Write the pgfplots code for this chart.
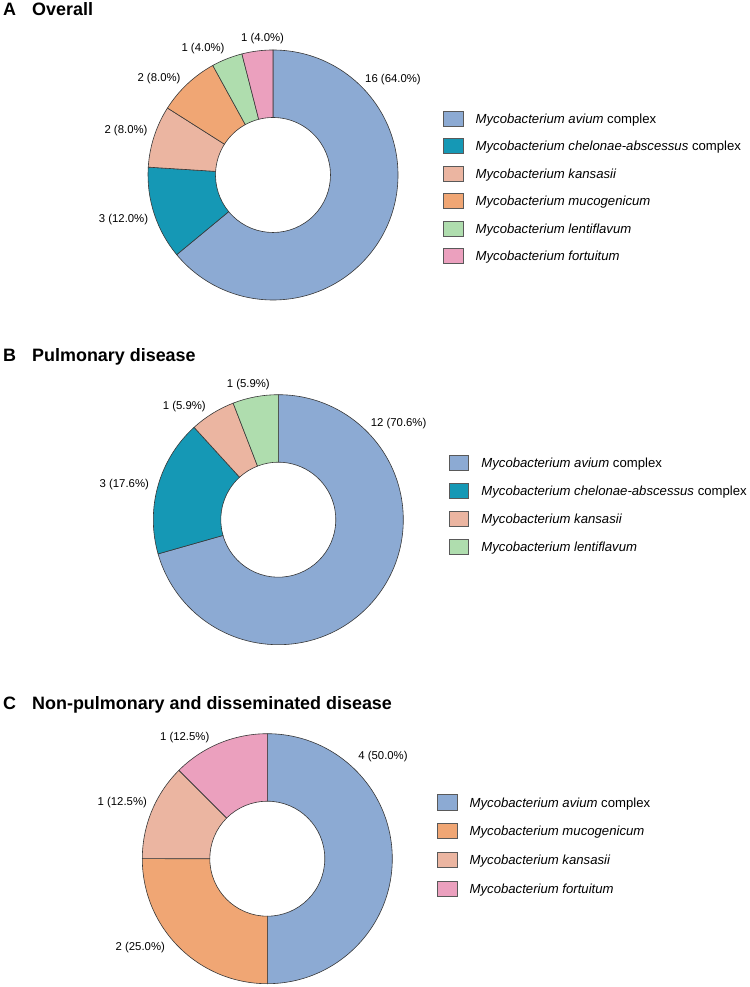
\documentclass[border=0pt]{standalone}
\usepackage{fontspec}
\setmainfont{Liberation Sans}
\usepackage{pgfplots}
\usepackage{pgfplotstable}
\pgfplotsset{compat=1.18}

% species colours
\definecolor{cMAC}{HTML}{8CAAD3}
\definecolor{cMCA}{HTML}{1598B5}
\definecolor{cMK}{HTML}{EBB5A1}
\definecolor{cMM}{HTML}{F0A674}
\definecolor{cML}{HTML}{AFDDAE}
\definecolor{cMF}{HTML}{EBA0BE}

% n = isolates; lx, ly = label offset from the ring centre (bp)
\pgfplotstableread{
n  colour lx     ly
16 cMAC   120    95
3  cMCA   -149.5 -45
2  cMK    -147   44
2  cMM    -114   96
1  cML    -70    126
1  cMF    -10.5  136
}\tabOverall

\pgfplotstableread{
n  colour lx    ly
12 cMAC   120.3 96.4
3  cMCA   -154  35
1  cMK    -94   113
1  cML    -30   135
}\tabPulm

\pgfplotstableread{
n  colour lx     ly
4  cMAC   115.7  102
2  cMM    -127   -88.6
1  cMK    -145   56
1  cMF    -82.6  121.4
}\tabNonPulm

\def\Rout{125}
\def\Rin{57.5}

\tikzset{
  slice/.style={draw=black!78, line width=0.6bp},
  lbl/.style={font=\fontsize{11.4}{13}\selectfont, inner sep=0pt},
  ttl/.style={font=\bfseries\fontsize{18}{21}\selectfont, inner sep=0pt, anchor=base west},
}

% ring chart from a table: #1 table, #2/#3 centre in axis units
\newcommand{\drawdonut}[3]{%
  \pgfplotstablegetrowsof{#1}%
  \pgfmathtruncatemacro\lastrow{\pgfplotsretval-1}%
  \def\tot{0}%
  \pgfplotsforeachungrouped \r in {0,...,\lastrow}{%
    \pgfplotstablegetelem{\r}{n}\of{#1}%
    \pgfmathsetmacro\tot{\tot+\pgfplotsretval}}%
  \def\cum{0}%
  \pgfplotsforeachungrouped \r in {0,...,\lastrow}{%
    \pgfplotstablegetelem{\r}{n}\of{#1}\let\val\pgfplotsretval
    \pgfplotstablegetelem{\r}{colour}\of{#1}\let\col\pgfplotsretval
    \pgfplotstablegetelem{\r}{lx}\of{#1}\let\lx\pgfplotsretval
    \pgfplotstablegetelem{\r}{ly}\of{#1}\let\ly\pgfplotsretval
    \pgfmathsetmacro\aS{90-360*\cum/\tot}%
    \pgfmathsetmacro\cum{\cum+\val}%
    \pgfmathsetmacro\aE{90-360*\cum/\tot}%
    \pgfmathsetmacro\pct{100*\val/\tot}%
    \pgfmathsetmacro\xa{#2+\Rout*cos(\aS)}%
    \pgfmathsetmacro\ya{#3+\Rout*sin(\aS)}%
    \pgfmathsetmacro\xb{#2+\Rin*cos(\aE)}%
    \pgfmathsetmacro\yb{#3+\Rin*sin(\aE)}%
    \pgfmathsetmacro\xl{#2+\lx}%
    \pgfmathsetmacro\yl{#3+\ly}%
    \edef\tmp{%
      \noexpand\filldraw[slice, fill=\col] (axis cs:\xa,\ya)
        arc[start angle=\aS, end angle=\aE, radius=\Rout bp]
        -- (axis cs:\xb,\yb)
        arc[start angle=\aE, end angle=\aS, radius=\Rin bp] -- cycle;
      \noexpand\node[lbl] at (axis cs:\xl,\yl)
        {\val\space(\noexpand\pgfmathprintnumber[fixed,fixed zerofill,precision=1,assume math mode=true]{\pct}\noexpand\%)};
    }\tmp
  }}

\pgfplotsset{
  ringaxis/.style={
    anchor=south west, x=1bp, y=1bp, xmin=0, xmax=750,
    hide axis, clip=false,
    legend image code/.code={%
      \draw[##1, draw=black!65, line width=0.6bp] (0bp,-7.6bp) rectangle (19.4bp,7.6bp);
      \path (31.9bp,0bp);},
    legend style={anchor=north west, draw=none, fill=none,
      inner sep=0pt, outer sep=0pt,
      font=\fontsize{13.2}{15}\selectfont,
      nodes={inner sep=0pt, text depth=0pt},
      cells={anchor=west}},
  },
}

\newcommand{\MAC}{\textit{Mycobacterium avium} complex}
\newcommand{\MCA}{\textit{Mycobacterium chelonae-abscessus} complex}
\newcommand{\MK}{\textit{Mycobacterium kansasii}}
\newcommand{\MM}{\textit{Mycobacterium mucogenicum}}
\newcommand{\ML}{\textit{Mycobacterium lentiflavum}}
\newcommand{\MF}{\textit{Mycobacterium fortuitum}}

\begin{document}
\begin{tikzpicture}
\useasboundingbox (0,0) rectangle (750bp,987bp);

% A: overall
\begin{axis}[ringaxis, at={(0bp,657bp)}, ymin=657, ymax=987,
  legend style={at={(axis cs:443.3,876.3)}, row sep=11.7bp}]
  \addlegendimage{fill=cMAC}\addlegendentry{\MAC}
  \addlegendimage{fill=cMCA}\addlegendentry{\MCA}
  \addlegendimage{fill=cMK}\addlegendentry{\MK}
  \addlegendimage{fill=cMM}\addlegendentry{\MM}
  \addlegendimage{fill=cML}\addlegendentry{\ML}
  \addlegendimage{fill=cMF}\addlegendentry{\MF}
  \drawdonut{\tabOverall}{273}{812}
\end{axis}

% B: pulmonary disease
\begin{axis}[ringaxis, at={(0bp,327bp)}, ymin=327, ymax=657,
  legend style={at={(axis cs:449,531.9)}, row sep=12.2bp}]
  \addlegendimage{fill=cMAC}\addlegendentry{\MAC}
  \addlegendimage{fill=cMCA}\addlegendentry{\MCA}
  \addlegendimage{fill=cMK}\addlegendentry{\MK}
  \addlegendimage{fill=cML}\addlegendentry{\ML}
  \drawdonut{\tabPulm}{278.3}{467.3}
\end{axis}

% C: non-pulmonary and disseminated disease
\begin{axis}[ringaxis, at={(0bp,0bp)}, ymin=0, ymax=327,
  legend style={at={(axis cs:437.3,192.6)}, row sep=13.0bp}]
  \addlegendimage{fill=cMAC}\addlegendentry{\MAC}
  \addlegendimage{fill=cMM}\addlegendentry{\MM}
  \addlegendimage{fill=cMK}\addlegendentry{\MK}
  \addlegendimage{fill=cMF}\addlegendentry{\MF}
  \drawdonut{\tabNonPulm}{267.3}{128.3}
\end{axis}

% panel headings
\node[ttl] at (3bp,971.5bp) {A};
\node[ttl] at (32bp,971.5bp) {Overall};
\node[ttl] at (3bp,625.3bp) {B};
\node[ttl] at (32bp,625.3bp) {Pulmonary disease};
\node[ttl] at (3bp,277.7bp) {C};
\node[ttl] at (32bp,277.7bp) {Non-pulmonary and disseminated disease};
\end{tikzpicture}
\end{document}
